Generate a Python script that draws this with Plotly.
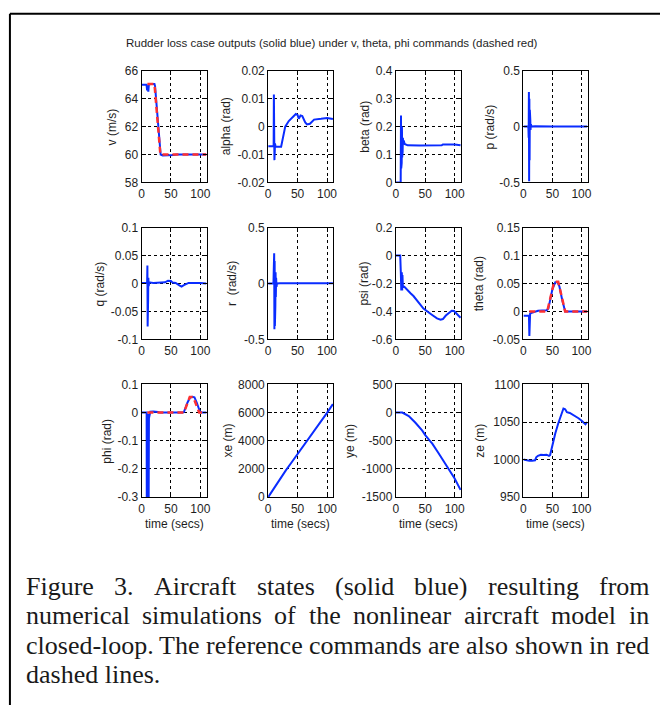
import plotly.graph_objects as go

# ---------------- data ----------------
t_v = [0, 8.5, 9.5, 10.5, 11.5, 12.5, 15, 22, 23, 31, 32.5, 36, 45, 55, 60, 75, 80, 85, 110]
v = [65.0, 65.0, 64.6, 64.95, 64.5, 65.0, 65.05, 65.05, 64.9, 60.15, 60.0, 59.93, 59.92, 59.96, 60.0, 60.0, 60.05, 60.0, 60.0]
t_v_cmd = [10, 22, 32, 110]
v_cmd = [65.05, 65.05, 60.0, 60.0]

t_alpha = [0, 9.3, 9.7, 10.0, 10.3, 10.6, 10.9, 11.2, 11.6, 12.5, 22, 25, 29, 35, 43, 47, 50, 52, 55, 58, 63, 66, 71, 78, 90, 100, 110]
alpha = [-0.007, -0.007, 0.0115, -0.011, 0.009, -0.012, 0.004, -0.009, -0.006, -0.0072, -0.0072, -0.004, 0.0, 0.002, 0.0035, 0.0045, 0.0042, 0.0028, 0.0040, 0.0038, 0.0015, 0.0008, 0.0010, 0.0025, 0.0028, 0.0031, 0.0027]

t_beta = [0, 8.3, 8.8, 9.2, 9.6, 10.0, 10.4, 10.8, 11.2, 11.6, 12.0, 12.5, 13.5, 15, 20, 40, 60, 78, 80, 100, 110]
beta = [0, 0, 0.24, 0.05, 0.22, 0.07, 0.20, 0.09, 0.18, 0.11, 0.16, 0.14, 0.15, 0.138, 0.133, 0.132, 0.132, 0.133, 0.136, 0.136, 0.133]

t_p = [0, 8.5, 9.0, 9.4, 9.8, 10.2, 10.6, 11.0, 11.4, 11.8, 12.2, 12.8, 14, 20, 50, 80, 90, 110]
p = [0, 0, -0.1, 0.31, -0.49, 0.25, -0.3, 0.15, -0.12, 0.06, -0.03, 0.02, 0.0, 0.003, 0.0, 0.005, 0.002, 0.0]

t_q = [0, 9.5, 10.0, 10.4, 10.8, 11.2, 11.6, 12.2, 13, 20, 30, 40, 45, 50, 53, 58, 65, 68, 72, 80, 100, 110]
q = [0.001, 0.001, 0.032, -0.077, 0.02, -0.03, 0.01, -0.005, 0.002, 0.001, 0.0015, 0.002, 0.005, 0.0045, 0.0015, 0.001, -0.004, -0.0055, -0.003, 0.001, 0.001, 0.0]

t_r = [0, 9.0, 9.4, 9.8, 10.2, 10.6, 11.0, 11.4, 11.8, 12.2, 12.6, 13.0, 13.5, 14.2, 15, 20, 75, 80, 95, 110]
r = [0, 0, 0.1, -0.3, 0.27, -0.41, 0.2, -0.38, 0.18, -0.2, 0.1, -0.12, 0.05, -0.03, 0.0, 0.002, 0.002, 0.006, 0.004, 0.002]

t_psi = [0, 7.5, 8.5, 9.3, 10.2, 10.8, 11.3, 12, 13, 15, 19, 25, 30, 39, 47, 60, 70, 76, 80, 85, 90, 95, 99, 105, 110]
psi = [0, 0, -0.12, -0.25, -0.12, -0.25, -0.14, -0.23, -0.22, -0.225, -0.245, -0.27, -0.29, -0.335, -0.38, -0.42, -0.45, -0.46, -0.455, -0.43, -0.41, -0.395, -0.397, -0.42, -0.445]

t_theta = [0, 9.5, 10.2, 10.8, 11.5, 13, 16, 25, 40, 43, 50, 55, 59, 62, 67, 72, 80, 110]
theta = [-0.008, -0.008, -0.044, -0.006, -0.004, -0.003, -0.002, 0.001, 0.002, 0.005, 0.04, 0.052, 0.052, 0.045, 0.02, 0.0, 0.0, 0.0]
t_theta_cmd = [10, 41, 53, 60, 72, 110]
theta_cmd = [0, 0, 0.053, 0.053, 0, 0]

t_phi = [0, 8.7, 9.0, 10.0, 10.6, 11.3, 12.0, 12.6, 15, 20, 28, 32, 70, 72, 78, 82, 86, 90, 94, 99, 102, 110]
phi = [0, 0, -0.4, -0.4, -0.005, -0.01, -0.4, -0.02, 0.003, 0.004, 0.002, 0.0, 0.0, 0.002, 0.035, 0.052, 0.056, 0.054, 0.035, 0.005, 0.0, 0.0]
t_phi_cmd = [10, 72, 82, 88, 98, 110]
phi_cmd = [0, 0, 0.055, 0.055, 0, 0]

t_xe = [0, 10, 20, 30, 40, 50, 60, 70, 80, 90, 100, 110]
xe = [0, 650, 1290, 1900, 2480, 3050, 3620, 4200, 4780, 5380, 5980, 6600]

t_ye = [0, 11, 22, 33, 45, 50, 58, 62, 73, 85, 90, 100, 110]
ye = [0, 0, -60, -175, -320, -400, -500, -550, -725, -920, -1000, -1170, -1370]

t_ze = [0, 5, 10, 15, 20, 22, 25, 30, 35, 40, 44, 46, 50, 55, 60, 65, 69, 72, 75, 80, 85, 90, 95, 100, 105, 107, 110]
ze = [1000, 999, 998.5, 998.5, 999, 1003, 1005, 1006.5, 1006, 1006.5, 1005, 1006, 1020, 1035, 1048, 1060, 1068, 1067, 1063, 1062, 1060, 1058, 1055, 1052, 1049, 1047, 1050]

x_ticks = [0, 50, 100]
x_ticktext = ["0", "50", "100"]

y_labels = ["v (m/s)", "alpha (rad)", "beta (rad)", "p (rad/s)",
            "q (rad/s)", "r  (rad/s)", "psi (rad)", "theta (rad)",
            "phi (rad)", "xe (m)", "ye (m)", "ze (m)"]
y_ranges = [[58, 66], [-0.02, 0.02], [0, 0.4], [-0.5, 0.5],
            [-0.1, 0.1], [-0.5, 0.5], [-0.6, 0.2], [-0.05, 0.15],
            [-0.3, 0.1], [0, 8000], [-1500, 500], [950, 1100]]
y_tickvals = [[58, 60, 62, 64, 66], [-0.02, -0.01, 0, 0.01, 0.02], [0, 0.1, 0.2, 0.3, 0.4], [-0.5, 0, 0.5],
              [-0.1, -0.05, 0, 0.05, 0.1], [-0.5, 0, 0.5], [-0.6, -0.4, -0.2, 0, 0.2], [-0.05, 0, 0.05, 0.1, 0.15],
              [-0.3, -0.2, -0.1, 0, 0.1], [0, 2000, 4000, 6000, 8000], [-1500, -1000, -500, 0, 500], [950, 1000, 1050, 1100]]
y_ticktext = [["58", "60", "62", "64", "66"], ["-0.02", "-0.01", "0", "0.01", "0.02"], ["0", "0.1", "0.2", "0.3", "0.4"], ["-0.5", "0", "0.5"],
              ["-0.1", "-0.05", "0", "0.05", "0.1"], ["-0.5", "0", "0.5"], ["-0.6", "-0.4", "-0.2", "0", "0.2"], ["-0.05", "0", "0.05", "0.1", "0.15"],
              ["-0.3", "-0.2", "-0.1", "0", "0.1"], ["0", "2000", "4000", "6000", "8000"], ["-1500", "-1000", "-500", "0", "500"], ["950", "1000", "1050", "1100"]]

series = [(t_v, v), (t_alpha, alpha), (t_beta, beta), (t_p, p),
          (t_q, q), (t_r, r), (t_psi, psi), (t_theta, theta),
          (t_phi, phi), (t_xe, xe), (t_ye, ye), (t_ze, ze)]
commands = {0: (t_v_cmd, v_cmd), 7: (t_theta_cmd, theta_cmd), 8: (t_phi_cmd, phi_cmd)}

title_text = "Rudder loss case outputs (solid blue) under v, theta, phi commands (dashed red)"
x_title = "time (secs)"
caption_lines = [
    "Figure 3. Aircraft states (solid blue) resulting from",
    "numerical simulations of the nonlinear aircraft model in",
    "closed-loop. The reference commands are also shown in red",
    "dashed lines.",
]

# ---------------- layout geometry (pixels) ----------------
W, H = 664, 712
col_px = [(140, 206), (268, 334), (397, 463), (526, 591)]
row_px = [(65, 179), (225, 339), (385, 500)]
ylab_x = [[110, 225, 365, 492], [98, 232, 365, 482], [105, 227, 350, 482]]

def px(x):
    return x / W

def py(y):
    return 1 - y / H

BLUE = "#0a2cff"
RED = "#ff3030"
FONT = "Liberation Sans, Arial, sans-serif"
TXT = "#1e1e1e"

fig = go.Figure()
layout = dict(width=W, height=H, margin=dict(l=0, r=0, t=0, b=0, pad=0), autosize=False,
              plot_bgcolor="white", paper_bgcolor="white", showlegend=False)
annotations = []

for i in range(12):
    rr, cc = divmod(i, 4)
    n = "" if i == 0 else str(i + 1)
    xa, ya = "x" + n, "y" + n
    ts, ys = series[i]
    fig.add_trace(go.Scatter(x=ts, y=ys, mode="lines", xaxis=xa, yaxis=ya,
                             line=dict(color=BLUE, width=2)))
    if i in commands:
        tc, yc = commands[i]
        fig.add_trace(go.Scatter(x=tc, y=yc, mode="lines", xaxis=xa, yaxis=ya,
                                 line=dict(color=RED, width=2.5, dash="6px,4px")))
    common = dict(showline=True, linecolor="black", linewidth=1, mirror="ticks",
                  ticks="inside", ticklen=4, tickcolor="black",
                  showgrid=True, gridcolor="black", gridwidth=1, griddash="3px,3px",
                  zeroline=False, tickfont=dict(family=FONT, size=12, color=TXT))
    layout["xaxis" + n] = dict(domain=[px(col_px[cc][0]), px(col_px[cc][1])], anchor=ya,
                               range=[0, 111], tickvals=x_ticks, ticktext=x_ticktext, **common)
    layout["yaxis" + n] = dict(domain=[py(row_px[rr][1]), py(row_px[rr][0])], anchor=xa,
                               range=y_ranges[i], tickvals=y_tickvals[i], ticktext=y_ticktext[i], **common)
    annotations.append(dict(text=y_labels[i], xref="paper", yref="paper",
                            x=px(ylab_x[rr][cc]), y=py((row_px[rr][0] + row_px[rr][1]) / 2),
                            textangle=-90, showarrow=False, xanchor="center", yanchor="middle",
                            font=dict(family=FONT, size=12, color=TXT)))
    if rr == 2:
        annotations.append(dict(text=x_title, xref="paper", yref="paper",
                                x=px((col_px[cc][0] + col_px[cc][1]) / 2), y=py(527),
                                showarrow=False, xanchor="center", yanchor="middle",
                                font=dict(family=FONT, size=12, color=TXT)))

annotations.append(dict(text=title_text, xref="paper", yref="paper", x=px(332), y=py(37),
                        showarrow=False, xanchor="center", yanchor="middle",
                        font=dict(family=FONT, size=11.5, color=TXT)))

# caption: justified lines using Times metrics (Liberation Serif is metric compatible)
TW = {'a': 444, 'b': 500, 'c': 444, 'd': 500, 'e': 444, 'f': 333, 'g': 500, 'h': 500, 'i': 278,
      'j': 278, 'k': 500, 'l': 278, 'm': 778, 'n': 500, 'o': 500, 'p': 500, 'q': 500, 'r': 333,
      's': 389, 't': 278, 'u': 500, 'v': 500, 'w': 722, 'x': 500, 'y': 500, 'z': 444,
      'A': 722, 'F': 556, 'T': 611, 'R': 667, '.': 250, '(': 333, ')': 333, '-': 333, ' ': 250}
CAP_SIZE = 26
CAP_L, CAP_R = 22, 652
cap_y = [591, 621, 651, 681]
SERIF = "Liberation Serif, Times New Roman, serif"

def wwidth(word):
    return sum(TW.get(ch, 500) for ch in word) * CAP_SIZE / 1000.0

for li, line in enumerate(caption_lines):
    words = line.split(" ")
    if li < 3:
        widths = [wwidth(w) for w in words]
        gap = (CAP_R - CAP_L - sum(widths)) / (len(words) - 1)
        xcur = CAP_L
        for w, ww in zip(words, widths):
            annotations.append(dict(text=w, xref="paper", yref="paper", x=px(xcur), y=py(cap_y[li]),
                                    showarrow=False, xanchor="left", yanchor="middle", borderpad=0,
                                    font=dict(family=SERIF, size=CAP_SIZE, color="#1a1a1a")))
            xcur += ww + gap
    else:
        annotations.append(dict(text=line, xref="paper", yref="paper", x=px(CAP_L), y=py(cap_y[li]),
                                showarrow=False, xanchor="left", yanchor="middle", borderpad=0,
                                font=dict(family=SERIF, size=CAP_SIZE, color="#1a1a1a")))

layout["annotations"] = annotations
layout["shapes"] = [
    dict(type="line", xref="paper", yref="paper", x0=px(7), x1=1, y0=py(7), y1=py(7),
         line=dict(color="black", width=2)),
    dict(type="line", xref="paper", yref="paper", x0=px(7), x1=px(7), y0=py(7), y1=0,
         line=dict(color="black", width=2)),
]
fig.update_layout(**layout)
fig.write_html(
    "out.html",
    config={"displayModeBar": False, "responsive": False, "staticPlot": True},
    post_script=(
        "document.documentElement.style.margin='0';document.documentElement.style.padding='0';"
        "document.documentElement.style.overflow='hidden';"
        "document.body.style.margin='0';document.body.style.padding='0';"
        "document.body.style.overflow='hidden';"
    ),
)
